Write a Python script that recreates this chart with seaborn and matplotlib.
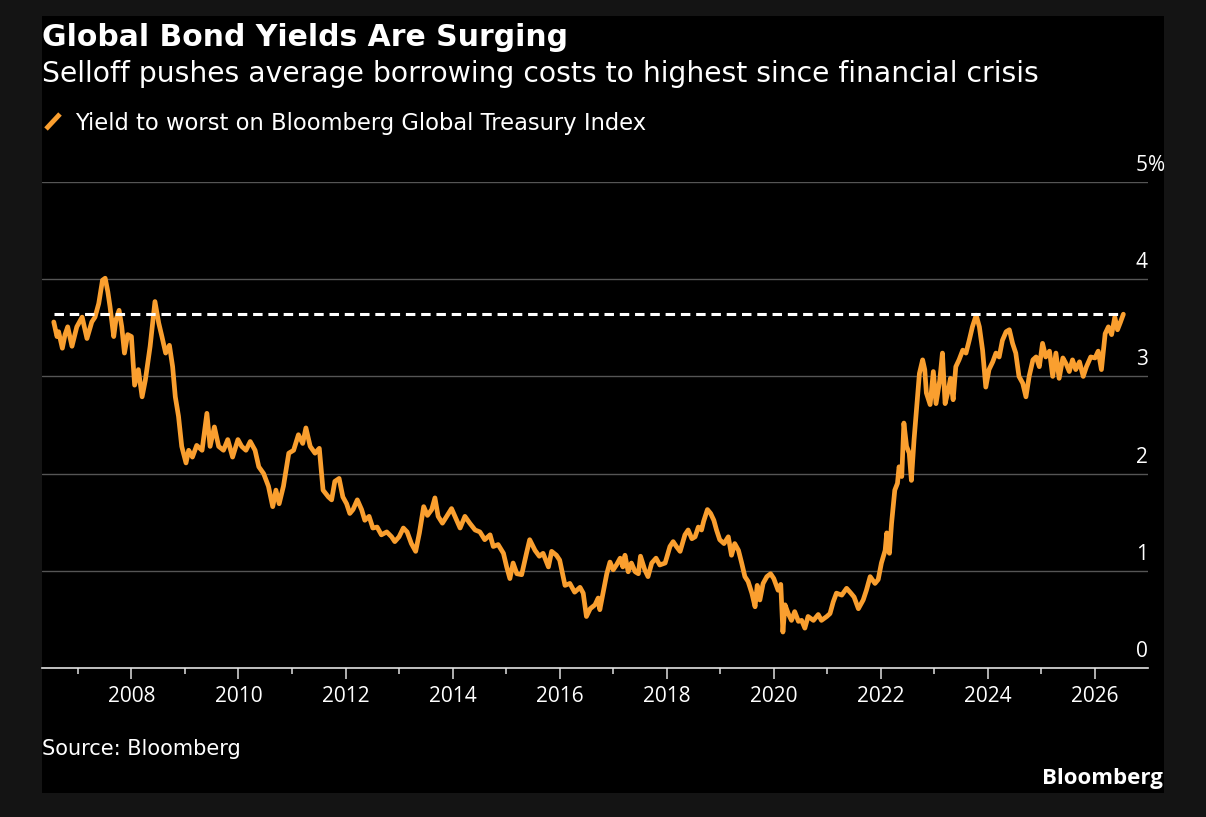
import matplotlib
matplotlib.use("Agg")
import matplotlib.pyplot as plt
import matplotlib.transforms as mtransforms
from matplotlib.lines import Line2D
from matplotlib.patches import Rectangle
import seaborn as sns
import pandas as pd

title = "Global Bond Yields Are Surging"
subtitle = "Selloff pushes average borrowing costs to highest since financial crisis"
series_name = "Yield to worst on Bloomberg Global Treasury Index"
source = "Source: Bloomberg"
brand = "Bloomberg"

year_ticks = list(range(2008, 2027, 2))
minor_year_ticks = list(range(2007, 2026, 2))
yield_ticks = [0, 1, 2, 3, 4, 5]

# yield to worst (%), decimal years
years = [
    2006.55, 2006.61, 2006.64, 2006.71, 2006.76, 2006.81, 2006.89, 2006.98, 2007.08, 2007.17,
    2007.26, 2007.32, 2007.39, 2007.46, 2007.51, 2007.56, 2007.60, 2007.67, 2007.71, 2007.77,
    2007.82, 2007.87, 2007.93, 2008.00, 2008.06, 2008.13, 2008.20, 2008.26, 2008.35, 2008.44,
    2008.51, 2008.57, 2008.64, 2008.71, 2008.77, 2008.82, 2008.88, 2008.94, 2009.02, 2009.07,
    2009.14, 2009.22, 2009.32, 2009.41, 2009.47, 2009.55, 2009.63, 2009.72, 2009.80, 2009.89,
    2009.99, 2010.06, 2010.14, 2010.22, 2010.31, 2010.38, 2010.47, 2010.56, 2010.64, 2010.70,
    2010.76, 2010.84, 2010.94, 2011.03, 2011.12, 2011.20, 2011.26, 2011.34, 2011.43, 2011.51,
    2011.53, 2011.58, 2011.68, 2011.74, 2011.80, 2011.88, 2011.95, 2012.02, 2012.08, 2012.14,
    2012.22, 2012.30, 2012.36, 2012.44, 2012.51, 2012.59, 2012.67, 2012.77, 2012.86, 2012.92,
    2013.00, 2013.08, 2013.15, 2013.23, 2013.31, 2013.38, 2013.46, 2013.53, 2013.61, 2013.67,
    2013.73, 2013.81, 2013.89, 2013.98, 2014.06, 2014.14, 2014.23, 2014.32, 2014.42, 2014.51,
    2014.60, 2014.70, 2014.76, 2014.85, 2014.95, 2015.01, 2015.07, 2015.13, 2015.20, 2015.29,
    2015.38, 2015.44, 2015.54, 2015.62, 2015.69, 2015.79, 2015.85, 2015.94, 2016.00, 2016.10,
    2016.19, 2016.28, 2016.38, 2016.44, 2016.50, 2016.57, 2016.66, 2016.72, 2016.75, 2016.81,
    2016.88, 2016.94, 2017.00, 2017.06, 2017.13, 2017.18, 2017.22, 2017.28, 2017.34, 2017.41,
    2017.47, 2017.51, 2017.59, 2017.65, 2017.72, 2017.80, 2017.87, 2017.97, 2018.06, 2018.12,
    2018.18, 2018.25, 2018.34, 2018.40, 2018.47, 2018.53, 2018.59, 2018.65, 2018.69, 2018.76,
    2018.82, 2018.88, 2018.93, 2018.99, 2019.07, 2019.15, 2019.21, 2019.27, 2019.34, 2019.40,
    2019.46, 2019.52, 2019.59, 2019.65, 2019.69, 2019.74, 2019.80, 2019.87, 2019.94, 2020.00,
    2020.08, 2020.13, 2020.17, 2020.21, 2020.27, 2020.33, 2020.39, 2020.46, 2020.52, 2020.58,
    2020.64, 2020.74, 2020.83, 2020.89, 2020.99, 2021.05, 2021.11, 2021.17, 2021.27, 2021.36,
    2021.44, 2021.50, 2021.58, 2021.67, 2021.73, 2021.80, 2021.89, 2021.95, 2022.01, 2022.08,
    2022.11, 2022.16, 2022.20, 2022.26, 2022.31, 2022.34, 2022.39, 2022.43, 2022.48, 2022.53,
    2022.57, 2022.62, 2022.67, 2022.72, 2022.78, 2022.82, 2022.85, 2022.92, 2022.98, 2023.03,
    2023.10, 2023.15, 2023.20, 2023.26, 2023.30, 2023.35, 2023.40, 2023.46, 2023.53, 2023.59,
    2023.65, 2023.71, 2023.78, 2023.84, 2023.90, 2023.96, 2024.02, 2024.09, 2024.15, 2024.21,
    2024.27, 2024.34, 2024.40, 2024.46, 2024.52, 2024.58, 2024.65, 2024.71, 2024.77, 2024.84,
    2024.90, 2024.96, 2025.02, 2025.08, 2025.15, 2025.21, 2025.27, 2025.33, 2025.40, 2025.46,
    2025.52, 2025.58, 2025.64, 2025.71, 2025.78, 2025.84, 2025.92, 2026.00, 2026.06, 2026.12,
    2026.19, 2026.25, 2026.31, 2026.37, 2026.42, 2026.47, 2026.53,
]
yields = [
    3.56, 3.41, 3.46, 3.29, 3.43, 3.51, 3.31, 3.51, 3.61, 3.39,
    3.56, 3.61, 3.75, 3.99, 4.01, 3.87, 3.72, 3.41, 3.58, 3.68,
    3.51, 3.24, 3.43, 3.41, 2.91, 3.07, 2.79, 2.96, 3.31, 3.77,
    3.55, 3.41, 3.24, 3.32, 3.10, 2.79, 2.59, 2.28, 2.11, 2.24,
    2.17, 2.29, 2.24, 2.62, 2.28, 2.48, 2.28, 2.24, 2.35, 2.17,
    2.35, 2.28, 2.24, 2.33, 2.24, 2.07, 2.00, 1.87, 1.66, 1.83,
    1.69, 1.87, 2.21, 2.24, 2.40, 2.31, 2.47, 2.28, 2.21, 2.26,
    2.14, 1.83, 1.76, 1.73, 1.92, 1.95, 1.76, 1.69, 1.59, 1.63,
    1.73, 1.63, 1.52, 1.56, 1.44, 1.45, 1.37, 1.40, 1.35, 1.30,
    1.35, 1.44, 1.40, 1.28, 1.20, 1.39, 1.66, 1.57, 1.63, 1.75,
    1.56, 1.49, 1.56, 1.64, 1.54, 1.44, 1.56, 1.49, 1.42, 1.40,
    1.32, 1.37, 1.25, 1.27, 1.18, 1.04, 0.92, 1.08, 0.97, 0.96,
    1.18, 1.32, 1.21, 1.15, 1.18, 1.04, 1.20, 1.16, 1.11, 0.85,
    0.87, 0.78, 0.83, 0.77, 0.53, 0.61, 0.65, 0.72, 0.60, 0.77,
    0.97, 1.09, 1.01, 1.06, 1.13, 1.04, 1.16, 0.99, 1.08, 0.99,
    0.97, 1.15, 1.01, 0.94, 1.08, 1.13, 1.06, 1.08, 1.25, 1.30,
    1.25, 1.20, 1.37, 1.42, 1.33, 1.35, 1.45, 1.42, 1.51, 1.63,
    1.59, 1.52, 1.42, 1.32, 1.28, 1.35, 1.16, 1.28, 1.21, 1.08,
    0.94, 0.89, 0.77, 0.63, 0.85, 0.70, 0.87, 0.94, 0.97, 0.92,
    0.80, 0.86, 0.37, 0.65, 0.56, 0.49, 0.58, 0.48, 0.49, 0.41,
    0.53, 0.49, 0.55, 0.49, 0.53, 0.56, 0.68, 0.77, 0.75, 0.82,
    0.77, 0.73, 0.61, 0.70, 0.80, 0.94, 0.87, 0.91, 1.08, 1.21,
    1.39, 1.18, 1.49, 1.83, 1.90, 2.07, 1.97, 2.52, 2.28, 2.21,
    1.93, 2.35, 2.69, 3.03, 3.17, 3.07, 2.83, 2.71, 3.05, 2.72,
    2.96, 3.24, 2.72, 2.86, 2.98, 2.76, 3.10, 3.17, 3.27, 3.24,
    3.37, 3.51, 3.63, 3.51, 3.27, 2.89, 3.07, 3.15, 3.24, 3.20,
    3.37, 3.46, 3.48, 3.34, 3.24, 3.00, 2.93, 2.79, 3.00, 3.17,
    3.20, 3.10, 3.34, 3.20, 3.26, 3.00, 3.24, 2.98, 3.19, 3.13,
    3.05, 3.17, 3.07, 3.15, 3.00, 3.10, 3.20, 3.19, 3.26, 3.07,
    3.44, 3.51, 3.43, 3.61, 3.48, 3.55, 3.64,
]

df = pd.DataFrame({"year": years, "yield": yields})

ORANGE = "#FA9F2F"
PAGE = "#141414"
GRID = "#555555"
AXIS = "#e0e0e0"

sns.set_style("dark", {"axes.facecolor": "black", "figure.facecolor": PAGE})
plt.rcParams["font.family"] = ["DejaVu Sans"]

W, H = 1206, 817
fig = plt.figure(figsize=(W / 100, H / 100), dpi=100, facecolor=PAGE)

# black card behind everything
fig.patches.append(Rectangle((42 / W, 1 - 793 / H), (1164 - 42) / W, (793 - 16) / H,
                             transform=fig.transFigure, facecolor="black",
                             edgecolor="none", zorder=-1))

ax = fig.add_axes([42 / W, 1 - 668 / H, (1148 - 42) / W, (668 - 182) / H])
ax.set_facecolor("black")

sns.lineplot(data=df, x="year", y="yield", ax=ax, color=ORANGE, linewidth=3.4, zorder=3)

# dashed line at the latest level
latest = yields[-1]
ax.plot([years[0], years[-1]], [latest, latest], color="white", linewidth=2.2,
        dashes=(3.1, 1.9), zorder=4)

ax.set_xlim(2006.33, 2026.99)
ax.set_ylim(0, 5)
ax.set_xlabel("")
ax.set_ylabel("")

ax.set_yticks(yield_ticks)
ax.yaxis.grid(True, color=GRID, linewidth=1.0)
ax.xaxis.grid(False)
ax.tick_params(axis="y", left=False, right=False, labelleft=False)

ax.set_xticks(year_ticks)
ax.set_xticklabels([str(y) for y in year_ticks], family="Open Sans")
ax.set_xticks(minor_year_ticks, minor=True)
ax.tick_params(axis="x", which="major", bottom=True, length=8, width=1.1, color=AXIS,
               pad=5, labelsize=15, labelcolor="white")
ax.tick_params(axis="x", which="minor", bottom=True, length=4.3, width=1.1, color=AXIS)

for side in ["top", "left", "right"]:
    ax.spines[side].set_visible(False)
ax.spines["bottom"].set_color(AXIS)
ax.spines["bottom"].set_linewidth(1.2)

# y labels sit above their gridlines, right aligned
lab_trans = mtransforms.offset_copy(ax.get_yaxis_transform(), fig=fig, y=11, units="dots")
for v in yield_ticks:
    ax.text(1.0, v, str(v), transform=lab_trans, ha="right", va="baseline",
            color="white", fontsize=15, family="Open Sans")
ax.text(1.0, yield_ticks[-1], "%", transform=lab_trans, ha="left", va="baseline",
        color="white", fontsize=15, family="Open Sans")

# header
fig.text(42 / W, 1 - 46 / H, title, fontsize=21.5, fontweight="bold", color="white",
         va="baseline")
fig.text(42 / W, 1 - 82 / H, subtitle, fontsize=20.3, color="white", va="baseline")
fig.add_artist(Line2D([46 / W, 60 / W], [1 - 129 / H, 1 - 114 / H], color=ORANGE,
                      linewidth=3.5, solid_capstyle="butt"))
fig.text(75 / W, 1 - 130 / H, series_name, fontsize=16.3, color="white", va="baseline")

# footer
fig.text(42 / W, 1 - 755 / H, source, fontsize=15, color="white", va="baseline")
fig.text(1163 / W, 1 - 784 / H, brand, fontsize=16, fontweight="bold", color="white",
         ha="right", va="baseline", family="Open Sans")

fig.savefig("out.png", dpi=100, facecolor=fig.get_facecolor())
